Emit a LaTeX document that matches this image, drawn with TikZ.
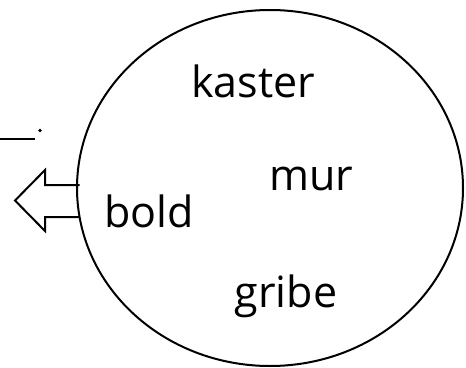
\documentclass[tikz,border=0pt]{standalone}
\usepackage{fontspec}
\setmainfont{Open Sans}
\usetikzlibrary{shapes.geometric}
\tikzset{
  word/.style={font=\fontsize{43}{50}\selectfont, inner sep=0pt, anchor=base},
  outline/.style={draw=black, line width=2pt},
}
\begin{document}
\begin{tikzpicture}[x=1pt,y=-1pt]
\useasboundingbox (0,0) rectangle (466,367);
\node[ellipse, outline, minimum width=386pt, minimum height=356pt, inner sep=0pt] (c) at (270,188) {};
\node[word] (kaster) at (253,97) {kaster};
\node[word] (mur) at (311,190) {mur};
\node[word] (bold) at (149,227) {bold};
\node[word] (gribe) at (286,307) {gribe};
% open arrow pointing left
\coordinate (a1) at (79.5,185);
\coordinate (a2) at (79.5,217);
\draw[line width=2pt, line join=miter] (a1) -- (45,185) -- (45,170) -- (15,200.5) -- (45,231) -- (45,217) -- (a2);
% truncated blank and period
\coordinate (u1) at (0,139);
\coordinate (u2) at (35,139);
\draw[line width=1.6pt] (u1) -- (u2);
\fill (40,130.5) circle (1.8pt);
\end{tikzpicture}
\end{document}
